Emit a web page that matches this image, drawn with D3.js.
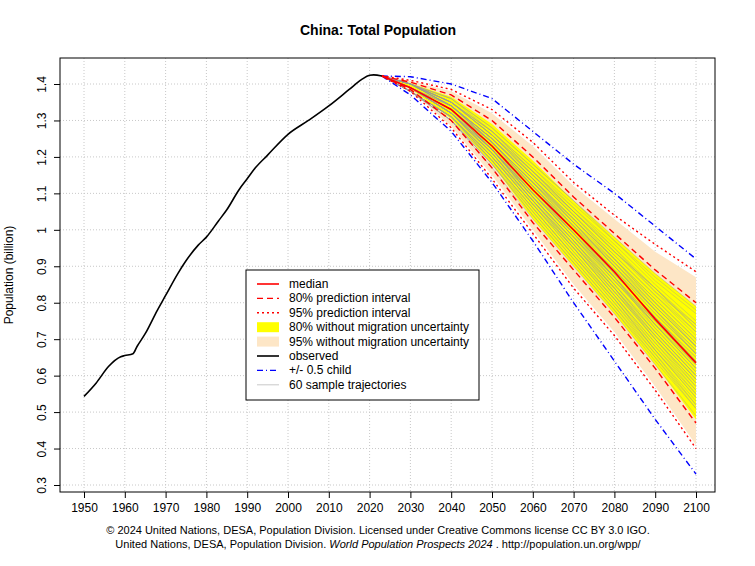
<!DOCTYPE html>
<html><head><meta charset="utf-8">
<script src="https://cdn.jsdelivr.net/npm/d3@7"></script>
<style>body{margin:0;background:#fff}svg{font-family:"Liberation Sans",Arial,sans-serif}</style>
</head><body><svg id="c" width="755" height="566"></svg>
<script>
var obsYears = [1950,1953,1956,1959,1960,1962,1963,1965,1968,1970,1973,1975,1978,1980,1983,1985,1988,1990,1992,1995,2000,2005,2010,2015,2018,2020,2021,2023];
var obsPop = [0.543,0.58,0.625,0.652,0.655,0.66,0.68,0.715,0.78,0.82,0.88,0.915,0.958,0.98,1.025,1.055,1.11,1.14,1.17,1.205,1.262,1.30,1.34,1.385,1.412,1.424,1.425,1.422];
var projYears = [2023,2030,2040,2050,2060,2070,2080,2090,2100];
var median = [1.422,1.39,1.33,1.23,1.11,1.00,0.885,0.755,0.635];
var up80 = [1.422,1.405,1.37,1.30,1.20,1.09,0.99,0.89,0.80];
var lo80 = [1.422,1.385,1.30,1.17,1.02,0.89,0.76,0.62,0.47];
var up95 = [1.422,1.41,1.385,1.33,1.24,1.13,1.04,0.96,0.885];
var lo95 = [1.422,1.38,1.28,1.14,0.99,0.84,0.71,0.56,0.40];
var upChild = [1.422,1.42,1.40,1.36,1.27,1.18,1.10,1.01,0.92];
var loChild = [1.422,1.37,1.27,1.13,0.97,0.80,0.64,0.48,0.33];
var up80nm = [1.422,1.402,1.365,1.29,1.19,1.08,0.98,0.88,0.79];
var lo80nm = [1.422,1.388,1.305,1.18,1.03,0.90,0.77,0.63,0.48];
var up95nm = [1.422,1.408,1.38,1.32,1.23,1.12,1.03,0.94,0.87];
var lo95nm = [1.422,1.382,1.285,1.15,1.00,0.85,0.72,0.57,0.41];
var trajectories = [
[1.40,1.35,1.26,1.15,1.04,0.93,0.82,0.72],[1.39,1.32,1.21,1.08,0.96,0.84,0.71,0.59],
[1.40,1.34,1.24,1.13,1.03,0.92,0.80,0.69],[1.38,1.31,1.20,1.07,0.94,0.81,0.68,0.55],
[1.39,1.33,1.23,1.11,1.00,0.89,0.77,0.66],[1.40,1.35,1.27,1.17,1.06,0.96,0.85,0.75],
[1.38,1.30,1.18,1.04,0.91,0.78,0.64,0.51],[1.39,1.33,1.22,1.10,0.98,0.86,0.74,0.62],
[1.40,1.34,1.25,1.14,1.02,0.90,0.78,0.67],[1.39,1.32,1.22,1.09,0.97,0.85,0.72,0.60],
[1.39,1.33,1.24,1.12,1.01,0.88,0.76,0.64],[1.40,1.36,1.28,1.18,1.08,0.98,0.88,0.79],
[1.38,1.31,1.19,1.06,0.93,0.80,0.66,0.53],[1.39,1.32,1.23,1.10,0.99,0.87,0.75,0.63],
[1.39,1.34,1.24,1.13,1.01,0.91,0.79,0.68],[1.38,1.30,1.19,1.05,0.92,0.79,0.66,0.52],
[1.40,1.35,1.26,1.16,1.05,0.94,0.84,0.73],[1.39,1.33,1.22,1.11,0.99,0.87,0.73,0.61],
[1.39,1.32,1.21,1.09,0.97,0.84,0.70,0.58],[1.40,1.34,1.25,1.15,1.04,0.92,0.81,0.70],
[1.38,1.31,1.20,1.08,0.95,0.82,0.69,0.56],[1.39,1.33,1.23,1.12,1.00,0.88,0.76,0.65],
[1.40,1.35,1.27,1.16,1.05,0.95,0.83,0.74],[1.39,1.32,1.21,1.08,0.95,0.83,0.70,0.57],
[1.39,1.33,1.24,1.12,1.00,0.87,0.74,0.62],[1.38,1.30,1.17,1.03,0.90,0.77,0.63,0.49],
[1.40,1.34,1.25,1.14,1.03,0.92,0.80,0.68],[1.39,1.33,1.22,1.10,0.99,0.87,0.75,0.64],
[1.40,1.36,1.27,1.17,1.07,0.97,0.86,0.77],[1.39,1.32,1.22,1.09,0.96,0.83,0.71,0.59],
[1.38,1.31,1.20,1.07,0.95,0.82,0.68,0.56],[1.40,1.34,1.24,1.13,1.02,0.90,0.79,0.68],
[1.39,1.33,1.23,1.11,0.99,0.88,0.76,0.65],[1.39,1.32,1.21,1.08,0.96,0.83,0.70,0.58],
[1.40,1.35,1.26,1.15,1.05,0.94,0.83,0.72],[1.38,1.30,1.18,1.05,0.92,0.79,0.65,0.52],
[1.39,1.34,1.24,1.13,1.01,0.89,0.78,0.66],[1.39,1.33,1.22,1.10,0.98,0.85,0.73,0.61],
[1.40,1.35,1.26,1.16,1.06,0.95,0.84,0.74],[1.39,1.32,1.20,1.07,0.95,0.82,0.69,0.57],
[1.39,1.33,1.23,1.12,1.00,0.89,0.77,0.66],[1.38,1.31,1.19,1.06,0.93,0.80,0.67,0.54],
[1.40,1.34,1.25,1.14,1.03,0.91,0.80,0.69],[1.39,1.32,1.22,1.09,0.97,0.85,0.72,0.60],
[1.40,1.36,1.28,1.18,1.08,0.97,0.87,0.78],[1.39,1.33,1.23,1.11,0.99,0.86,0.74,0.63],
[1.38,1.31,1.20,1.07,0.94,0.81,0.67,0.55],[1.39,1.33,1.24,1.12,1.01,0.90,0.78,0.67],
[1.40,1.34,1.25,1.14,1.02,0.91,0.79,0.68],[1.39,1.32,1.21,1.08,0.96,0.84,0.71,0.59],
[1.39,1.33,1.22,1.10,0.98,0.86,0.75,0.63],[1.40,1.35,1.26,1.15,1.04,0.93,0.82,0.71],
[1.38,1.30,1.18,1.04,0.91,0.78,0.65,0.51],[1.39,1.34,1.24,1.13,1.02,0.90,0.78,0.66],
[1.39,1.32,1.22,1.09,0.97,0.84,0.72,0.60],[1.40,1.35,1.27,1.16,1.05,0.94,0.84,0.73],
[1.39,1.33,1.23,1.11,1.00,0.88,0.76,0.64],[1.38,1.31,1.19,1.06,0.93,0.81,0.67,0.54],
[1.40,1.34,1.25,1.14,1.03,0.92,0.81,0.70],[1.39,1.33,1.22,1.10,0.98,0.87,0.74,0.62]];
var xTicks = d3.range(1950, 2101, 10);
var yTicks = d3.range(0.3, 1.41, 0.1);

var svg = d3.select("#c");
var L = 60, R = 715, T = 58, B = 492;
var x = d3.scaleLinear().domain([1950, 2100]).range([84, 696]);
var y = d3.scaleLinear().domain([0.3, 1.4]).range([485, 84]);

svg.append("text").attr("x", 378).attr("y", 35).attr("text-anchor", "middle")
  .style("font-weight", "bold").style("font-size", "14px").text("China: Total Population");

var g = svg.append("g");
g.selectAll(".gx").data(xTicks).enter().append("line")
  .attr("x1", x).attr("x2", x).attr("y1", T).attr("y2", B)
  .attr("stroke", "#c8c8c8").attr("stroke-dasharray", "1,2");
g.selectAll(".gy").data(yTicks).enter().append("line")
  .attr("y1", y).attr("y2", y).attr("x1", L).attr("x2", R)
  .attr("stroke", "#c8c8c8").attr("stroke-dasharray", "1,2");

function band(u, l) {
  return d3.area().x(function(d, i) { return x(projYears[i]); })
    .y0(function(d, i) { return y(l[i]); }).y1(function(d) { return y(d); })(u);
}
g.append("path").attr("d", band(up95nm, lo95nm)).attr("fill", "#fde6c6");
g.append("path").attr("d", band(up80nm, lo80nm)).attr("fill", "#ffff00");

var line = d3.line().x(function(d, i) { return x(projYears[i]); }).y(function(d) { return y(d); });
trajectories.forEach(function(t) {
  g.append("path").attr("d", line([median[0]].concat(t))).attr("fill", "none")
    .attr("stroke", "#999").attr("stroke-width", 0.5).attr("opacity", 0.8);
});
function drawLine(v, col, dash, w) {
  g.append("path").attr("d", line(v)).attr("fill", "none").attr("stroke", col)
    .attr("stroke-width", w || 1.4).attr("stroke-dasharray", dash);
}
drawLine(upChild, "#0000ff", "6,3,1,3"); drawLine(loChild, "#0000ff", "6,3,1,3");
drawLine(up95, "#ff0000", "2,3"); drawLine(lo95, "#ff0000", "2,3");
drawLine(up80, "#ff0000", "6,4"); drawLine(lo80, "#ff0000", "6,4");
drawLine(median, "#ff0000", null, 1.6);

g.append("path").attr("d", d3.line().x(function(d, i) { return x(obsYears[i]); }).y(function(d) { return y(d); }).curve(d3.curveMonotoneX)(obsPop))
  .attr("fill", "none").attr("stroke", "#000").attr("stroke-width", 1.6);

svg.append("rect").attr("x", L).attr("y", T).attr("width", R - L).attr("height", B - T)
  .attr("fill", "none").attr("stroke", "#000");

var xa = svg.append("g").attr("transform", "translate(0," + B + ")")
  .call(d3.axisBottom(x).tickValues(xTicks).tickFormat(d3.format("d")).tickSize(6));
xa.select(".domain").remove();
xa.selectAll("text").style("font-size", "12px").style("font-family", "Liberation Sans,Arial").attr("dy", "0.9em");
var ya = svg.append("g").attr("transform", "translate(" + L + ",0)")
  .call(d3.axisLeft(y).tickValues(yTicks).tickFormat(function(d) { return d3.format(".1f")(d).replace(/\.0$/, ""); }).tickSize(6));
ya.select(".domain").remove();
ya.selectAll("text").style("font-size", "12px").style("font-family", "Liberation Sans,Arial")
  .attr("text-anchor", "middle").attr("transform", function(d) { return "rotate(-90," + (-14) + "," + y(d) + ")"; })
  .attr("x", -14).attr("y", y(0) - y(0)).attr("dy", "0.35em");
ya.selectAll(".tick text").attr("transform", function(d) { return "translate(-14,0) rotate(-90)"; })
  .attr("x", 0).attr("y", 0).attr("dy", "0");

svg.append("text").attr("transform", "translate(13,275) rotate(-90)").attr("text-anchor", "middle")
  .style("font-size", "12px").text("Population (billion)");

// legend
var lg = svg.append("g").attr("transform", "translate(246,270)");
lg.append("rect").attr("width", 233).attr("height", 130).attr("fill", "#fff").attr("stroke", "#000");
var items = [
  ["median", "#ff0000", null, 1.6], ["80% prediction interval", "#ff0000", "6,4", 1.4],
  ["95% prediction interval", "#ff0000", "2,3", 1.4], ["80% without migration uncertainty", "#ffff00", null, 10],
  ["95% without migration uncertainty", "#fde6c6", null, 10], ["observed", "#000", null, 1.6],
  ["+/- 0.5 child", "#0000ff", "6,3,1,3", 1.4], ["60 sample trajectories", "#bbb", null, 0.8]];
items.forEach(function(it, i) {
  var yy = 14 + i * 14.4;
  lg.append("line").attr("x1", 11).attr("x2", 33).attr("y1", yy).attr("y2", yy)
    .attr("stroke", it[1]).attr("stroke-width", it[3]).attr("stroke-dasharray", it[2]);
  lg.append("text").attr("x", 43).attr("y", yy + 4).style("font-size", "12px").text(it[0]);
});

svg.append("text").attr("x", 378).attr("y", 534).attr("text-anchor", "middle").style("font-size", "11px")
  .text("\u00a9 2024 United Nations, DESA, Population Division. Licensed under Creative Commons license CC BY 3.0 IGO.");
var f = svg.append("text").attr("x", 378).attr("y", 548).attr("text-anchor", "middle").style("font-size", "11px");
f.append("tspan").text("United Nations, DESA, Population Division. ");
f.append("tspan").style("font-style", "italic").text("World Population Prospects 2024");
f.append("tspan").text(" . http://population.un.org/wpp/");
</script></body></html>
